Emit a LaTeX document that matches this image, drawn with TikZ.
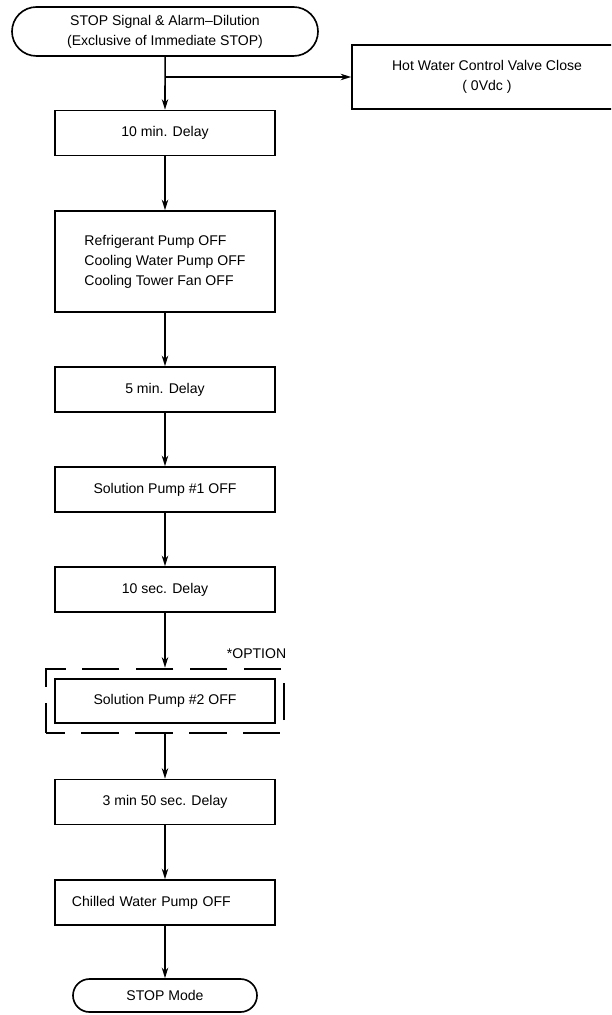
\documentclass[tikz,border=0pt]{standalone}
\usepackage{fontspec}
\setmainfont{Liberation Sans}
\usetikzlibrary{arrows.meta,shapes.misc,fit}
\begin{document}
\begin{tikzpicture}[x=.03cm,y=-.03cm,>={Stealth[length=9pt,width=5.5pt]},line width=1.3pt,
  font=\fontsize{12}{17}\selectfont,
  stepbox/.style={draw,line width=1.4pt,minimum width=6.6cm,minimum height=1.35cm,inner sep=0pt},
  termbox/.style={draw,rounded rectangle,line width=1.4pt,inner sep=0pt,align=center},
  optbox/.style={draw,dash pattern=on 32pt off 14pt,dash phase=16pt,line width=2pt,inner xsep=.24cm,inner ysep=.28cm}]
  \useasboundingbox (0,0) rectangle (611,1015);
  \clip (0,0) rectangle (611,1015);
  % main column
  \node[termbox,minimum width=9.18cm,minimum height=1.47cm] (start) at (165,31.5)
    {STOP Signal \& Alarm--Dilution\\(Exclusive of Immediate STOP)};
  \node[stepbox,minimum width=8.1cm,minimum height=1.92cm,align=center] (hot) at (487,77)
    {Hot Water Control Valve Close\\( 0Vdc )};
  \node[stepbox] (d10min) at (165,133) {10 min. Delay};
  \node[stepbox,minimum height=3.03cm,align=left] (pumps) at (165,261.5)
    {Refrigerant Pump OFF\\Cooling Water Pump OFF\\Cooling Tower Fan OFF};
  \node[stepbox] (d5min) at (165,389.5) {5 min. Delay};
  \node[stepbox] (sp1) at (165,489.5) {Solution Pump \#1 OFF};
  \node[stepbox] (d10sec) at (165,589.5) {10 sec. Delay};
  \node[stepbox,minimum height=1.32cm] (sp2) at (165,701) {Solution Pump \#2 OFF};
  \node[optbox,fit=(sp2)] (frame) {};
  \node[anchor=base east,inner sep=0pt] (opt) at ([xshift=.06cm,yshift=.27cm]frame.north east) {*OPTION};
  \node[stepbox] (d3min) at (165,802) {3 min 50 sec. Delay};
  \node[stepbox,text width=5.58cm,align=left,inner xsep=.51cm] (chw) at (165,902.5) {Chilled Water Pump OFF};
  \node[termbox,minimum width=5.52cm,minimum height=.99cm] (stopm) at (165,995.5) {STOP Mode};
  % connectors
  \coordinate (br) at (start.south |- hot.west);
  \draw[->] (start) -- (d10min);
  \draw[->] (br) -- (hot.west);
  \draw[->] (d10min) -- (pumps);
  \draw[->] (pumps) -- (d5min);
  \draw[->] (d5min) -- (sp1);
  \draw[->] (sp1) -- (d10sec);
  \draw[->] (d10sec) -- (frame.north);
  \draw[->] (frame.south) -- (d3min);
  \draw[->] (d3min) -- (chw);
  \draw[->] (chw) -- (stopm);
\end{tikzpicture}
\end{document}
